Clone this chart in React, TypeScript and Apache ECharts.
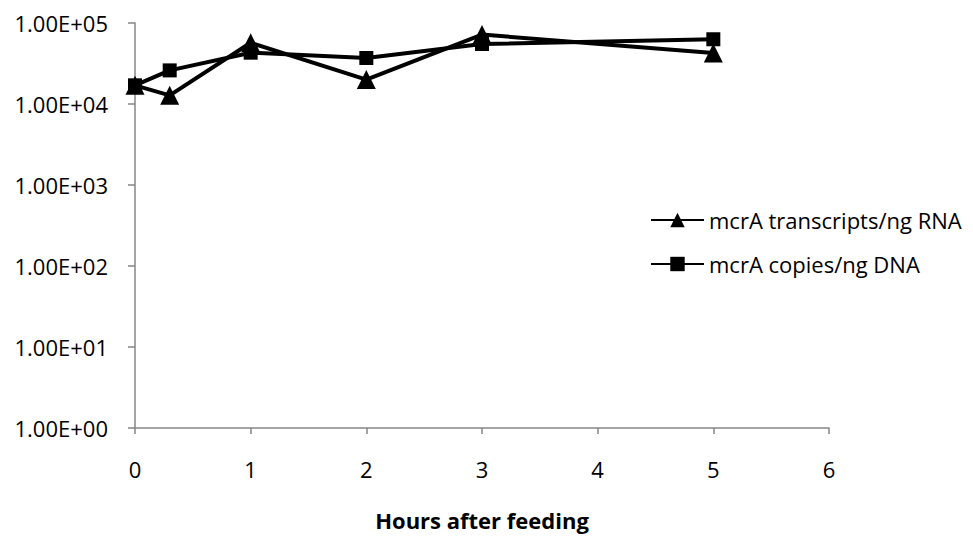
import React, { useEffect, useRef } from "react";
import * as echarts from "echarts";

const hours = [0, 0.3, 1, 2, 3, 5];
const transcriptsRNA = [17000, 12800, 57000, 20000, 72000, 42500];
const copiesDNA = [17000, 26000, 43000, 37000, 55000, 63000];
const seriesNames = ["mcrA transcripts/ng RNA", "mcrA copies/ng DNA"];
const xTitle = "Hours after feeding";

function fmtExp(v: number) {
  const e = Math.round(Math.log10(v));
  const m = v / Math.pow(10, e);
  const es = (e < 0 ? "-" : "+") + String(Math.abs(e)).padStart(2, "0");
  return m.toFixed(2) + "E" + es;
}

export default function App() {
  const ref = useRef<HTMLDivElement>(null);
  useEffect(() => {
    const chart = echarts.init(ref.current!, null, { renderer: "svg" });
    const font = "'Open Sans', sans-serif";
    const fs = 22;
    chart.setOption({
      animation: false,
      textStyle: { fontFamily: font },
      grid: { left: 127, right: 136, top: 15, bottom: 100 },
      legend: {
        orient: "vertical",
        left: 637,
        top: 196,
        itemWidth: 53,
        itemHeight: 18,
        itemGap: 22,
        textStyle: { fontSize: fs, color: "#000", fontFamily: font },
        data: seriesNames,
      },
      xAxis: {
        type: "value",
        min: 0,
        max: 6,
        interval: 1,
        name: xTitle,
        nameLocation: "middle",
        nameGap: 81,
        nameTextStyle: { fontSize: fs, fontWeight: "bold", color: "#000", fontFamily: font },
        axisLine: { lineStyle: { color: "#868686", width: 1.5 } },
        axisTick: { show: true, length: 6, lineStyle: { color: "#868686", width: 1.5 } },
        axisLabel: { fontSize: fs, color: "#000", margin: 30 },
        splitLine: { show: false },
      },
      yAxis: {
        type: "log",
        logBase: 10,
        min: 1,
        max: 100000,
        axisLine: { show: true, lineStyle: { color: "#868686", width: 1.5 } },
        axisTick: { show: true, length: 7, lineStyle: { color: "#868686", width: 1.5 } },
        axisLabel: { fontSize: fs, color: "#000", margin: 27, formatter: (v: number) => fmtExp(v) },
        splitLine: { show: false },
      },
      series: [
        {
          name: seriesNames[0],
          type: "line",
          data: hours.map((h, i) => [h, transcriptsRNA[i]]),
          symbol: "triangle",
          symbolSize: 19,
          lineStyle: { color: "#000", width: 4 },
          itemStyle: { color: "#000" },
        },
        {
          name: seriesNames[1],
          type: "line",
          data: hours.map((h, i) => [h, copiesDNA[i]]),
          symbol: "rect",
          symbolSize: 14,
          lineStyle: { color: "#000", width: 4 },
          itemStyle: { color: "#000" },
        },
      ],
    });
    return () => chart.dispose();
  }, []);
  return <div ref={ref} style={{ width: 957, height: 528 }} />;
}
